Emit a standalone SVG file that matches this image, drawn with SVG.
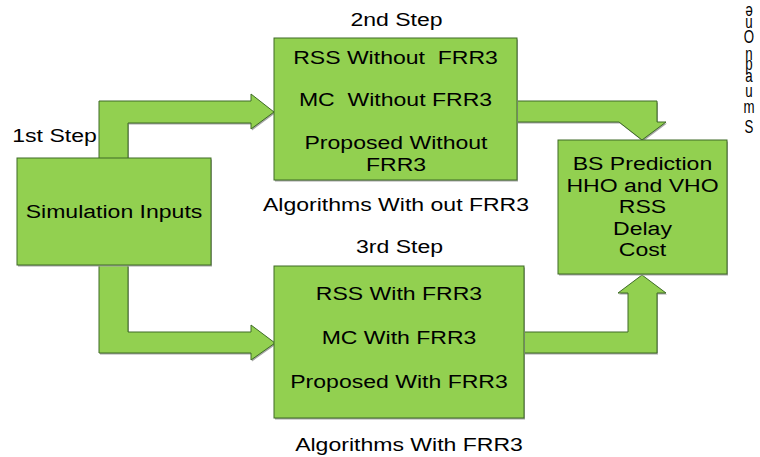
<svg xmlns="http://www.w3.org/2000/svg" xmlns:xlink="http://www.w3.org/1999/xlink" width="760" height="457" viewBox="0 0 760 457">
  <defs>
    <style>
      .shape { fill: #92D050; stroke: #3E6B26; stroke-width: 1; stroke-linejoin: miter; }
      .shade { fill: #A6A6A6; stroke: none; }
      .lbl { font-family: "Liberation Sans", Arial, sans-serif; font-size: 18px; fill: #000; text-anchor: middle; }
      .vert { font-family: "Liberation Sans", Arial, sans-serif; font-size: 19px; fill: #000; text-anchor: middle; }
    </style>
    <polygon id="arrowTopLeft" points="99,159 99,101 251,101 251,94 274,112 251,129 251,123 128,123 128,159"/>
    <polygon id="arrowBottomLeft" points="99,265 99,353 251,353 251,360 275,343 251,325 251,332 128,332 128,265"/>
    <polygon id="arrowTopRight" points="517,101 657,101 657,122 666,122 642,140 619,122 517,122"/>
    <polygon id="arrowBottomRight" points="524,332 628,332 628,293 618,293 642,275 666,293 657,293 657,353 524,353"/>
  </defs>

  <rect width="760" height="457" fill="#FFFFFF"/>

  <!-- connectors: block arrows with a faint grey shadow -->
  <g id="connectors">
    <g transform="translate(1,1.5)">
      <use xlink:href="#arrowTopLeft" class="shade"/>
      <use xlink:href="#arrowBottomLeft" class="shade"/>
      <use xlink:href="#arrowTopRight" class="shade"/>
      <use xlink:href="#arrowBottomRight" class="shade"/>
    </g>
    <use xlink:href="#arrowTopLeft" class="shape"/>
    <use xlink:href="#arrowBottomLeft" class="shape"/>
    <use xlink:href="#arrowTopRight" class="shape"/>
    <use xlink:href="#arrowBottomRight" class="shape"/>
  </g>

  <!-- step 1 -->
  <g id="node-inputs">
    <rect x="18" y="159.5" width="194" height="107" class="shade"/>
    <rect x="17" y="158" width="194" height="107" class="shape"/>
    <text class="lbl" transform="translate(114,218) scale(1.28,1)">Simulation Inputs</text>
  </g>
  <text class="lbl" transform="translate(54.5,142) scale(1.28,1)">1st Step</text>

  <!-- step 2 -->
  <g id="node-without-frr3">
    <rect x="275" y="39.5" width="243" height="142" class="shade"/>
    <rect x="274" y="38" width="243" height="142" class="shape"/>
    <text class="lbl" transform="translate(395.5,64) scale(1.28,1)">RSS Without&#160; FRR3</text>
    <text class="lbl" transform="translate(395.5,106) scale(1.28,1)">MC&#160; Without FRR3</text>
    <text class="lbl" transform="translate(396,149) scale(1.28,1)">Proposed Without</text>
    <text class="lbl" transform="translate(396,171) scale(1.28,1)">FRR3</text>
  </g>
  <text class="lbl" transform="translate(396.5,26) scale(1.28,1)">2nd Step</text>
  <text class="lbl" transform="translate(396,211) scale(1.28,1)">Algorithms With out FRR3</text>

  <!-- step 3 -->
  <g id="node-with-frr3">
    <rect x="275" y="267.5" width="250" height="152" class="shade"/>
    <rect x="274" y="266" width="250" height="152" class="shape"/>
    <text class="lbl" transform="translate(399,300) scale(1.28,1)">RSS With FRR3</text>
    <text class="lbl" transform="translate(399,344) scale(1.28,1)">MC With FRR3</text>
    <text class="lbl" transform="translate(399,388) scale(1.28,1)">Proposed With FRR3</text>
  </g>
  <text class="lbl" transform="translate(399.5,253) scale(1.28,1)">3rd Step</text>
  <text class="lbl" transform="translate(409,451) scale(1.28,1)">Algorithms With FRR3</text>

  <!-- results -->
  <g id="node-results">
    <rect x="559" y="141.5" width="169" height="134" class="shade"/>
    <rect x="558" y="140" width="169" height="134" class="shape"/>
    <text class="lbl" transform="translate(642.5,170) scale(1.28,1)">BS Prediction</text>
    <text class="lbl" transform="translate(642.5,192) scale(1.28,1)">HHO and VHO</text>
    <text class="lbl" transform="translate(642.5,213) scale(1.28,1)">RSS</text>
    <text class="lbl" transform="translate(642.5,235) scale(1.28,1)">Delay</text>
    <text class="lbl" transform="translate(642.5,256) scale(1.28,1)">Cost</text>
  </g>

  <!-- stacked vertical caption at the top right -->
  <g id="vertical-caption">
    <text class="vert" transform="translate(749,6) rotate(180) scale(0.7,1)">e</text>
    <text class="vert" transform="translate(749,28) scale(0.7,1)">u</text>
    <text class="vert" transform="translate(749,43) scale(0.7,1)">O</text>
    <text class="vert" transform="translate(749,60) scale(0.7,1)">n</text>
    <text class="vert" transform="translate(749,70) scale(0.7,1)">p</text>
    <text class="vert" transform="translate(749,82) scale(0.7,1)">a</text>
    <text class="vert" transform="translate(749,97) scale(0.7,1)">u</text>
    <text class="vert" transform="translate(749,113) scale(0.7,1)">m</text>
    <text class="vert" transform="translate(749,133) scale(0.7,1)">S</text>
  </g>
</svg>
